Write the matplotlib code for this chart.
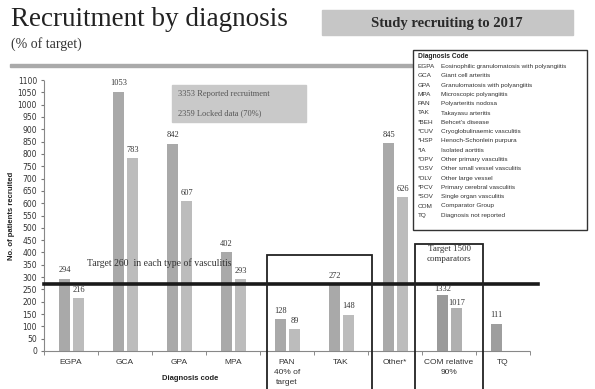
import numpy as np
import matplotlib.pyplot as plt
from matplotlib.patches import Rectangle

# data
codes = ["EGPA", "GCA", "GPA", "MPA", "PAN", "TAK", "Other*", "COM relative", "TQ"]
tick_labels = ["EGPA", "GCA", "GPA", "MPA", "PAN\n40% of\ntarget", "TAK", "Other*",
               "COM relative\n90%", "TQ"]
reported = [294, 1053, 842, 402, 128, 272, 845]
locked = [216, 783, 607, 293, 89, 148, 626]
com_values = [1332, 1017]
tq_value = [111]
yticks = np.arange(0, 1101, 50)

legend_codes = ["EGPA", "GCA", "GPA", "MPA", "PAN", "TAK", "*BEH", "*CUV", "*HSP", "*IA",
                "*OPV", "*OSV", "*OLV", "*PCV", "*SOV", "COM", "TQ"]
legend_names = ["Eosinophilic granulomatosis with polyangiitis", "Giant cell arteritis",
                "Granulomatosis with polyangiitis", "Microscopic polyangiitis",
                "Polyarteritis nodosa", "Takayasu arteritis", "Behcet's disease",
                "Cryoglobulinaemic vasculitis", "Henoch-Schonlein purpura",
                "Isolated aortitis", "Other primary vasculitis",
                "Other small vessel vasculitis", "Other large vessel",
                "Primary cerebral vasculitis", "Single organ vasculitis",
                "Comparator Group", "Diagnosis not reported"]

W, H = 595, 389
serif = "Liberation Serif"
sans = "Liberation Sans"


def fx(px):
    return px / W


def fy(py):
    return 1 - py / H


fig = plt.figure(figsize=(W / 100, H / 100), dpi=100)
ax = fig.add_axes([fx(44), fy(351), fx(530) - fx(44), fy(80) - fy(351)])

c1, c2 = "#a9a9a9", "#bcbcbc"
bw = 0.19
off1, off2 = -0.12, 0.14
x = np.arange(len(reported))
b1 = ax.bar(x + off1, reported, bw, color=c1)
b2 = ax.bar(x + off2, locked, bw, color=c2)
b3 = ax.bar([8 + off1], tq_value, bw, color="#9e9e9e")

# comparator group drawn on its own (compressed) scale
ax2 = ax.twinx()
ax2.set_ylim(0, 6400)
ax2.axis("off")
b4 = ax2.bar([7 + off1, 7 + off2], com_values, bw, color=["#9a9a9a", "#b0b0b0"])

lab_kw = dict(fontsize=6, family=serif, color="#333333")
for bars in (b1, b2, b3):
    ax.bar_label(bars, padding=3, **lab_kw)
ax2.bar_label(b4, padding=1, **lab_kw)

ax.set_xlim(-0.5, 8.5)
ax.set_ylim(0, 1100)
ax.set_yticks(yticks)
ax.tick_params(axis="y", labelsize=5.5, length=2, color="#777777", labelcolor="#333333",
               pad=3)
ax.set_xticks(np.arange(len(codes)))
ax.set_xticklabels(tick_labels, fontsize=6, family=sans, color="#333333",
                   linespacing=1.6, va="top")
ax.set_xticks(np.arange(-0.5, 9, 1), minor=True)
ax.tick_params(axis="x", which="major", length=0, pad=6)
ax.tick_params(axis="x", which="minor", length=3, color="#777777")
for s in ["top", "right"]:
    ax.spines[s].set_visible(False)
for s in ["left", "bottom"]:
    ax.spines[s].set_color("#888888")
    ax.spines[s].set_linewidth(0.8)
    ax.spines[s].set_linestyle((0, (1, 1)))

# target line
ax.axhline(270, xmin=0, xmax=1.016, color="#1a1a1a", lw=2.6, clip_on=False, zorder=5)
ax.text(0.3, 345, "Target 260  in each type of vasculitis", fontsize=7, family=serif,
        color="#333333")

# boxes around PAN/TAK and COM
ax.add_patch(Rectangle((3.63, -160), 1.94, 550, fill=False, ec="#222222", lw=1.3,
                       clip_on=False, zorder=6))
ax.add_patch(Rectangle((6.37, -160), 1.26, 595, fill=False, ec="#222222", lw=1.3,
                       clip_on=False, zorder=6))
ax.text(7.0, 395, "Target 1500\ncomparators", fontsize=6.5, family=serif, color="#333333",
        ha="center", va="center", linespacing=1.3)

ax.set_ylabel("No. of patients recruited", fontsize=5.5, family=sans, weight="bold",
              color="#222222", labelpad=2)
fig.text(fx(190), fy(378), "Diagnosis code", fontsize=5.5, family=sans, weight="bold",
         color="#222222", ha="center", va="center")

# titles
fig.text(fx(11), fy(20), "Recruitment by diagnosis", fontsize=19.5, family=serif,
         color="#222222", va="center")
fig.text(fx(11), fy(44), "(% of target)", fontsize=10, family=serif, color="#333333",
         va="center")
fig.patches.append(Rectangle((fx(322), fy(35)), fx(573) - fx(322), fy(10) - fy(35),
                             transform=fig.transFigure, color="#c6c6c6", zorder=0))
fig.text(fx(447), fy(23), "Study recruiting to 2017", fontsize=10.5, family=serif,
         weight="bold", color="#2a2a2a", ha="center", va="center")
fig.patches.append(Rectangle((fx(10), fy(67)), fx(412) - fx(10), fy(64) - fy(67),
                             transform=fig.transFigure, color="#aaaaaa", zorder=0))

# recruitment note
fig.patches.append(Rectangle((fx(172), fy(122)), fx(306) - fx(172), fy(85) - fy(122),
                             transform=fig.transFigure, color="#c9c9c9", zorder=0))
fig.text(fx(178), fy(94), "3353 Reported recruitment", fontsize=6, family=serif,
         color="#555555", va="center")
fig.text(fx(178), fy(113), "2359 Locked data (70%)", fontsize=6, family=serif,
         color="#555555", va="center")

# diagnosis code key
fig.patches.append(Rectangle((fx(413), fy(230)), fx(587) - fx(413), fy(50) - fy(230),
                             transform=fig.transFigure, fill=False, ec="#333333", lw=1,
                             zorder=3))
fig.text(fx(418), fy(57), "Diagnosis Code", fontsize=4.8, family=sans, weight="bold",
         color="#222222", va="center")
for i, (c, n) in enumerate(zip(legend_codes, legend_names)):
    yy = 66.5 + i * 9.3
    fig.text(fx(418), fy(yy), c, fontsize=4.6, family=sans, color="#333333", va="center")
    fig.text(fx(441), fy(yy), n, fontsize=4.6, family=sans, color="#333333", va="center")

fig.savefig("out.png", dpi=100)
